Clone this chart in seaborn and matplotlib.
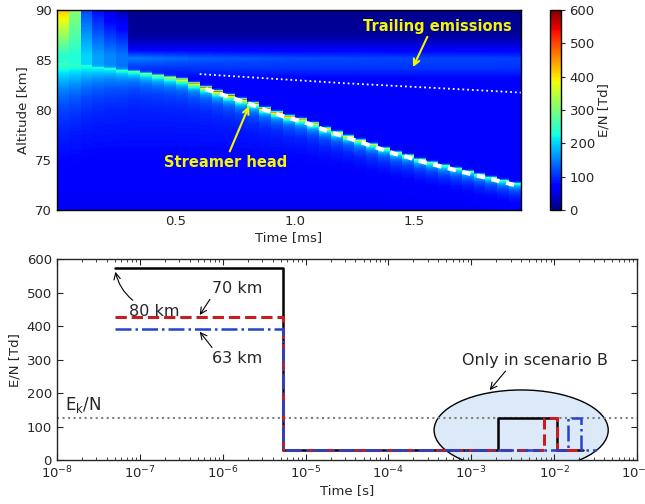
import numpy as np
import pandas as pd
import seaborn as sns
import matplotlib.pyplot as plt
from matplotlib.patches import Ellipse

# ---------------- top panel data ----------------
col_width_ms = 0.05
dz_km = 0.05
n_cols = 39
col_time_ms = np.arange(n_cols) * col_width_ms + col_width_ms / 2
alt_km = 90 - dz_km * (np.arange(400) + 0.5)

# altitude of the streamer head in each time column
head_km = [84.7, 84.6, 84.5, 84.3, 84.2, 84.0, 83.9, 83.7, 83.5, 83.3,
           83.1, 82.7, 82.3, 81.9, 81.5, 81.1, 80.7, 80.2, 79.8, 79.4,
           79.1, 78.7, 78.2, 77.8, 77.4, 77.0, 76.6, 76.2, 75.8, 75.5,
           75.1, 74.8, 74.5, 74.2, 73.9, 73.6, 73.3, 73.0, 72.7]
# peak E/N at the head front [Td]
head_peak_td = [230, 230, 220, 230, 240, 260, 280, 300, 330, 380,
                450, 480, 500, 520, 520, 520, 500, 500, 480, 480,
                460, 460, 440, 420, 400, 380, 360, 340, 330, 320,
                320, 310, 300, 300, 290, 290, 280, 280, 270]
# first columns: field above the head is still strong
early_top_td = [420, 310, 120, 80, 50, 30]
early_mid_td = [240, 235, 200, 170, 155, 145]
# glow just below the head: amplitude [Td] and depth [km], early columns
early_glow_td = [150, 140, 130, 120, 115, 110]
early_glow_km = [2.5, 2.2, 1.8, 1.5, 1.3, 1.2]
# trailing region above the head (late times)
upper_alt_km = [83.0, 84.2, 85.2, 86.2, 87.5, 90.0]
upper_td = [70, 105, 115, 60, 15, 8]
# strength of the bright band near 85 km versus time
band_t_ms = [0.3, 0.6, 1.0, 1.95]
band_td = [150, 130, 118, 112]
# undisturbed region below the head
lower_alt_km = [70, 75, 80, 84]
lower_td = [60, 75, 92, 110]

trail_t_ms = [0.6, 0.8, 1.0, 1.2, 1.4, 1.6, 1.8, 1.95]
trail_km = [83.6, 83.3, 83.0, 82.7, 82.45, 82.2, 81.95, 81.75]

# ---------------- bottom panel data ----------------
t80 = [5.0e-8, 5.3e-6, 2.1e-3, 1.07e-2, 2.2e-2]
en80 = [572, 30, 125, 30, 30]
t70 = [5.0e-8, 5.3e-6, 7.5e-3, 1.07e-2, 2.2e-2]
en70 = [427, 30, 125, 30, 30]
t63 = [5.0e-8, 5.3e-6, 1.47e-2, 2.12e-2, 3.2e-2]
en63 = [392, 30, 125, 30, 30]
ek_td = 125

# build the E/N field column by column
field = np.zeros((alt_km.size, n_cols))
for j in range(n_cols):
    h, pk = head_km[j], head_peak_td[j]
    d = h - alt_km
    lo = np.interp(alt_km, lower_alt_km, lower_td)
    lo_h = np.interp(h, lower_alt_km, lower_td)
    if j < len(early_top_td):
        up = np.interp(alt_km, [85.5, 90.0], [early_mid_td[j], early_top_td[j]])
        glow, depth = early_glow_td[j], early_glow_km[j]
    else:
        prof = list(upper_td)
        prof[2] = np.interp(col_time_ms[j], band_t_ms, band_td)
        up = np.interp(alt_km, upper_alt_km, prof)
        glow, depth = 130, 0.9
    dd = np.clip(d, 0, None)
    below = lo + max(pk - lo_h - glow, 0) * np.exp(-dd / 0.25) + glow * np.exp(-dd / depth)
    above = up + (pk - up) * np.exp(np.clip(d, None, 0) / 0.08)
    field[:, j] = np.where(d >= 0, below, above)

df = pd.DataFrame(field, index=np.round(alt_km, 3), columns=np.round(col_time_ms, 3))


def xi(t):
    return np.asarray(t) / col_width_ms


def yi(a):
    return (90 - np.asarray(a)) / dz_km


sns.set_style('ticks', {'xtick.direction': 'in', 'ytick.direction': 'in'})
plt.rcParams['font.family'] = ['DejaVu Sans']

fig = plt.figure(figsize=(6.45, 5.04), dpi=100)
ax1 = fig.add_axes([0.088, 0.583, 0.720, 0.397])
cax = fig.add_axes([0.853, 0.583, 0.016, 0.397])
ax2 = fig.add_axes([0.088, 0.087, 0.900, 0.399])

sns.heatmap(df, ax=ax1, cbar_ax=cax, cmap='jet', vmin=0, vmax=600,
            xticklabels=False, yticklabels=False,
            cbar_kws={'ticks': list(range(0, 700, 100))})
for sp in ax1.spines.values():
    sp.set_visible(True)
    sp.set_linewidth(1)
    sp.set_color('black')
ax1.set_xticks(xi([0.5, 1.0, 1.5]))
ax1.set_xticklabels(['0.5', '1.0', '1.5'], rotation=0)
ax1.set_yticks(yi([90, 85, 80, 75, 70]))
ax1.set_yticklabels(['90', '85', '80', '75', '70'], rotation=0)
ax1.tick_params(top=True, right=True, direction='in', length=4, labelsize=9.5)
ax1.set_xlabel('Time [ms]', fontsize=9.5, labelpad=2)
ax1.set_ylabel('Altitude [km]', fontsize=9.5)

cb = ax1.collections[0].colorbar
cb.outline.set_linewidth(1)
cb.outline.set_edgecolor('black')
cax.tick_params(labelsize=9.5, direction='out', length=3)
cax.set_ylabel('E/N [Td]', fontsize=9.5, labelpad=2)

# white markers along the head and the trailing region
sel = [j for j in range(n_cols) if col_time_ms[j] >= 0.6]
ax1.plot(xi(col_time_ms[sel]), yi(np.array(head_km)[sel] - 0.2), color='white',
         lw=3, dashes=(2.0, 1.6))
ax1.plot(xi(trail_t_ms), yi(trail_km), color='white', lw=1.3, ls=':')

ax1.annotate('Streamer head', xy=(xi(0.807), yi(80.4)), xytext=(xi(0.71), yi(74.8)),
             color='#f5f500', fontsize=10.5, fontweight='bold', ha='center', va='center',
             arrowprops=dict(arrowstyle='->', color='#f5f500', lw=1.5,
                             relpos=(0.52, 1.0), shrinkA=0, shrinkB=0))
ax1.annotate('Trailing emissions', xy=(xi(1.496), yi(84.3)), xytext=(xi(1.60), yi(88.4)),
             color='#f5f500', fontsize=10.5, fontweight='bold', ha='center', va='center',
             arrowprops=dict(arrowstyle='->', color='#f5f500', lw=1.5,
                             relpos=(0.44, 0.0), shrinkA=0, shrinkB=0))

# ---------------- bottom panel ----------------
ax2.add_patch(Ellipse((0.80, 0.149), 0.30, 0.40, transform=ax2.transAxes,
                      facecolor='#dce9f9', edgecolor='black', lw=1, zorder=0.5))
ax2.axhline(ek_td, color='gray', ls=':', lw=1.5, zorder=1)
sns.lineplot(x=t80, y=en80, ax=ax2, color='black', lw=1.8, drawstyle='steps-post',
             estimator=None, sort=False)
sns.lineplot(x=t70, y=en70, ax=ax2, color='#c41e1e', lw=2.2, linestyle='--',
             drawstyle='steps-post', estimator=None, sort=False)
sns.lineplot(x=t63, y=en63, ax=ax2, color='#2244cc', lw=1.8, linestyle='-.',
             drawstyle='steps-post', estimator=None, sort=False)
ax2.set_xscale('log')
ax2.set_xlim(1e-8, 1e-1)
ax2.set_ylim(0, 600)
ax2.set_yticks(range(0, 700, 100))
ax2.tick_params(which='both', top=True, right=True, direction='in', labelsize=9.5)
ax2.tick_params(which='major', length=4)
ax2.tick_params(which='minor', length=2)
for sp in ax2.spines.values():
    sp.set_linewidth(1)
ax2.set_xlabel('Time [s]', fontsize=9.5, labelpad=2)
ax2.set_ylabel('E/N [Td]', fontsize=9.5)

ax2.text(1.25e-8, 150, r'E$_\mathrm{k}$/N', fontsize=12, ha='left', va='baseline')
arrow = dict(arrowstyle='->', color='black', lw=0.8, shrinkA=0, shrinkB=0)
ax2.annotate('80 km', xy=(5.1e-8, 562), xytext=(1.5e-7, 445), fontsize=11.5,
             ha='center', va='center',
             arrowprops=dict(arrow, relpos=(0.16, 1.0), connectionstyle='arc3,rad=-0.2'))
ax2.annotate('70 km', xy=(5.3e-7, 433), xytext=(1.5e-6, 512), fontsize=11.5,
             ha='center', va='center', arrowprops=dict(arrow, relpos=(0.0, 0.0)))
ax2.annotate('63 km', xy=(5.3e-7, 383), xytext=(1.5e-6, 304), fontsize=11.5,
             ha='center', va='center', arrowprops=dict(arrow, relpos=(0.05, 1.0)))
ax2.annotate('Only in scenario B', xy=(1.66e-3, 209), xytext=(5.77e-3, 298), fontsize=11.5,
             ha='center', va='center', arrowprops=dict(arrow, relpos=(0.32, 0.0)))

fig.savefig('out.png', dpi=100)
